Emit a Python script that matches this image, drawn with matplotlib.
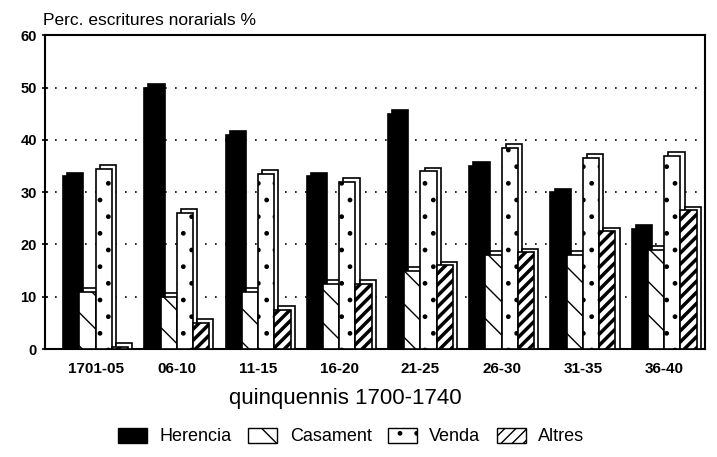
import numpy as np
import matplotlib
matplotlib.use('Agg')
import matplotlib.pyplot as plt
from matplotlib.patches import Patch

plt.rcParams['font.family'] = ['Liberation Sans', 'DejaVu Sans']

periodes = ['1701-05', '06-10', '11-15', '16-20', '21-25', '26-30', '31-35', '36-40']
herencia = [33, 50, 41, 33, 45, 35, 30, 23]
casament = [11, 10, 11, 12.5, 15, 18, 18, 19]
venda = [34.5, 26, 33.5, 32, 34, 38.5, 36.5, 37]
altres = [0.5, 5, 7.5, 12.5, 16, 18.5, 22.5, 26.5]

series = [('Herencia', herencia, 'black', ''),
          ('Casament', casament, 'white', '\\'),
          ('Venda', venda, 'white', '.'),
          ('Altres', altres, 'white', '///')]

fig = plt.figure(figsize=(7.17, 4.57), dpi=100)
ax = fig.add_axes([0.063, 0.236, 0.92, 0.687])

x = np.arange(len(periodes))
w = 0.2
dx, dy = 0.05, 0.7   # fals efecte 3D
for k, (nom, vals, col, hat) in enumerate(series):
    pos = x + (k - 1.5) * w
    lw_h = 2.5 if nom == 'Altres' else 1.0
    with plt.rc_context({'hatch.linewidth': lw_h}):
        # cara posterior (profunditat)
        ax.bar(pos + dx, np.array(vals) + dy, w, color=col,
               edgecolor='black', linewidth=1.2, zorder=2 + k)
        ax.bar(pos, vals, w, color=col, hatch=hat, edgecolor='black', linewidth=1.2, zorder=2.5 + k)

ax.set_xlim(-0.62, 7.5)
ax.set_ylim(0, 60)
ax.set_yticks(range(0, 61, 10))
ax.set_xticks(x)
ax.set_xticklabels(periodes, fontsize=11, fontweight='bold')
for t in ax.get_yticklabels():
    t.set_fontsize(10.5)
    t.set_fontweight('bold')
ax.tick_params(axis='x', length=0, pad=9)
ax.tick_params(axis='y', length=5, width=1.2, direction='inout')
ax.yaxis.grid(True, linestyle=(0, (1, 5)), color='black', linewidth=1.2)
ax.set_axisbelow(True)
for s in ax.spines.values():
    s.set_linewidth(1.5)

ax.set_xlabel('quinquennis 1700-1740', fontsize=16)
ax.xaxis.set_label_coords(0.455, -0.125)
fig.text(0.06, 0.945, 'Perc. escritures norarials %', fontsize=12.5)

handles = [Patch(facecolor=c, edgecolor='black', hatch=h, label=n) for n, _, c, h in series]
fig.legend(handles=handles, loc='center', bbox_to_anchor=(0.49, 0.045), ncol=4,
           frameon=False, fontsize=13, handlelength=1.6, handleheight=0.9,
           columnspacing=0.9, handletextpad=0.7)

fig.savefig('out.png', dpi=100)
